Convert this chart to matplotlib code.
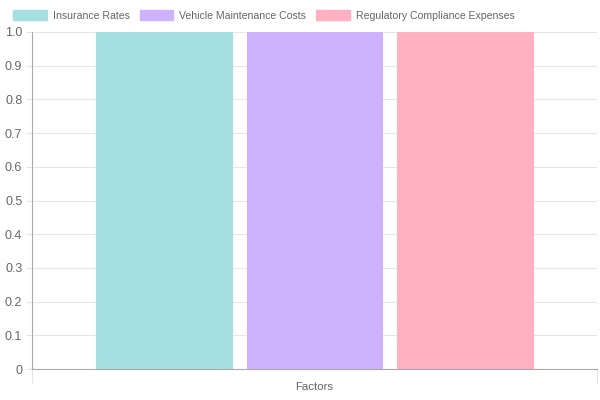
import matplotlib
matplotlib.use("Agg")
import matplotlib.pyplot as plt
from matplotlib.patches import Patch
import numpy as np

plt.rcParams['font.family'] = ['Liberation Sans', 'DejaVu Sans']

categories = [""]
series_names = ["Insurance Rates", "Vehicle Maintenance Costs", "Regulatory Compliance Expenses"]
series_values = [[1.0], [1.0], [1.0]]
fills = ["#a5dfdf", "#ccb2ff", "#ffb1c1"]
y_ticks = [0, 0.1, 0.2, 0.3, 0.4, 0.5, 0.6, 0.7, 0.8, 0.9, 1.0]
y_labels = ["0", "0.1", "0.2", "0.3", "0.4", "0.5", "0.6", "0.7", "0.8", "0.9", "1.0"]

W, H = 600, 400
fig = plt.figure(figsize=(6, 4), dpi=100)
ax = fig.add_axes([32 / W, 31 / H, 565 / W, 337 / H])

x = np.arange(len(categories))
group = 0.8
bw = group / len(series_names) * 0.9
for i, (name, vals) in enumerate(zip(series_names, series_values)):
    off = (i - (len(series_names) - 1) / 2) * group / len(series_names)
    ax.bar(x + off, vals, width=bw, color=fills[i], edgecolor=fills[i],
           linewidth=0.8, label=name, zorder=2)

ax.set_xlim(-0.5, len(categories) - 0.5)
ax.set_ylim(0, 1.0)
ax.set_yticks(y_ticks)
ax.set_yticklabels(y_labels)
ax.set_xticks([-0.5, 0.5], minor=True)
ax.set_xticks([])
ax.grid(axis='y', color='#e5e5e5', linewidth=0.8, zorder=0)
ax.grid(axis='x', which='minor', color='#e5e5e5', linewidth=0.8, zorder=0)
ax.tick_params(axis='y', colors='#e5e5e5', labelcolor='#666666', labelsize=9, length=4, width=0.8, pad=3)
ax.tick_params(axis='x', which='minor', colors='#e5e5e5', length=10, width=0.8)
for s in ['top', 'right']:
    ax.spines[s].set_visible(False)
for s in ['left', 'bottom']:
    ax.spines[s].set_color('#aaaaaa')
    ax.spines[s].set_linewidth(0.8)
ax.set_xlabel("Factors", color='#666666', fontsize=8.2)
ax.xaxis.set_label_coords(0.5, -0.04)

handles = [Patch(facecolor=fills[i], edgecolor=fills[i]) for i in range(len(series_names))]
fig.legend(handles, series_names, loc='upper left', bbox_to_anchor=(11 / W, 1 - 8 / H),
           ncol=3, frameon=False, fontsize=7.6, labelcolor='#666666',
           handlelength=3.2, handleheight=1.05, handletextpad=0.55, columnspacing=0.95,
           borderaxespad=0, borderpad=0.2)

fig.savefig("out.png", dpi=100)
